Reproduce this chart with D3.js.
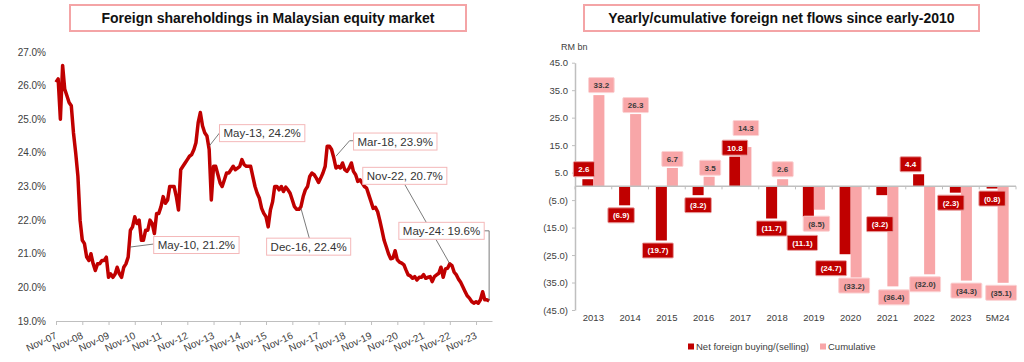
<!DOCTYPE html>
<html>
<head>
<meta charset="utf-8">
<script src="https://cdn.jsdelivr.net/npm/d3@7"></script>
<style>
  body { margin: 0; background: #fff; }
  svg { font-family: "Liberation Sans", Arial, sans-serif; }
</style>
</head>
<body>
<svg id="chart" width="1024" height="362"></svg>
<script>
// ---- data ----
// foreign shareholding (%), monthly from Nov-07 to May-24
const shareStart = new Date(2007, 10, 1);
const shareValues = [
  26.1, 26.2, 25.0, 26.6, 25.9, 25.7, 25.5, 25.4, 24.6, 24.0, 23.3, 22.0,
  21.4, 21.3, 20.9, 20.8, 21.0, 20.7, 20.5, 20.7, 20.7, 20.8, 20.8, 20.9,
  20.3, 20.4, 20.3, 20.4, 20.6, 20.4, 20.3, 20.6, 20.7, 20.9, 21.7, 21.8,
  22.1, 21.9, 22.0, 21.4, 21.4, 21.7, 21.7, 22.0, 21.9, 21.6, 22.2, 22.2,
  22.4, 22.7, 22.5, 22.6, 23.0, 23.0, 23.0, 22.7, 22.3, 23.5, 23.6, 23.7,
  23.8, 23.9, 23.95, 24.1, 24.3, 24.9, 25.2, 24.8, 24.6, 24.5, 24.1, 22.6,
  23.6, 23.6, 23.35, 23.1, 23.0, 23.2, 23.4, 23.4, 23.5, 23.6, 23.5, 23.55,
  23.6, 23.8, 23.65, 23.6, 23.6, 23.6, 23.3, 23.0, 22.8, 22.65, 22.35, 22.2,
  22.1, 21.8, 22.3, 22.55, 23.0, 23.0, 22.9, 23.0, 22.85, 22.98, 22.9, 22.8,
  22.6, 22.4, 22.32, 22.32, 22.4, 22.7, 22.9, 23.0, 23.3, 23.4, 23.35, 23.25,
  23.12, 23.25, 23.4, 23.6, 24.2, 24.2, 24.1, 23.85, 23.55, 23.6, 23.55, 23.7,
  23.5, 23.45, 23.55, 23.7, 23.45, 23.35, 23.15, 23.2, 23.1, 23.0, 22.95, 22.75,
  22.55, 22.35, 22.38, 22.25, 22.0, 21.7, 21.4, 21.2, 21.0, 20.85, 20.87, 21.09,
  20.82, 20.75, 20.72, 20.67, 20.52, 20.37, 20.34, 20.27, 20.32, 20.22, 20.3, 20.3,
  20.38, 20.27, 20.3, 20.32, 20.17, 20.32, 20.37, 20.42, 20.6, 20.3, 20.55, 20.57,
  20.7, 20.65, 20.45, 20.37, 20.25, 20.15, 20.02, 19.88, 19.75, 19.68, 19.58, 19.53,
  19.57, 19.53, 19.63, 19.87, 19.63, 19.63, 19.6
];
const shareTicks = [19, 20, 21, 22, 23, 24, 25, 26, 27];

// callouts: m = month index from Nov-07, v = value where the leader ends
const callouts = [
  { text: "May-10, 21.2%", m: 34, v: 21.2 },
  { text: "May-13, 24.2%", m: 70, v: 24.2 },
  { text: "Dec-16, 22.4%", m: 112, v: 22.35 },
  { text: "Mar-18, 23.9%", m: 128, v: 23.9 },
  { text: "Nov-22, 20.7%", m: 180, v: 20.7 },
  { text: "May-24: 19.6%", m: 198, v: 19.6 }
];
// box centre offset from the point, and leader bends relative to the box centre
const calloutLayout = [
  { dx: 66, dy: -2, leader: [[-42.7, -1]] },
  { dx: 53, dy: -13, leader: [[-42, -1]] },
  { dx: 7.7, dy: 38.3, leader: [[0.7, -8.3]] },
  { dx: 59.3, dy: -14.7, leader: [[-41.7, -0.8], [-45.7, -0.8]] },
  { dx: -45, dy: -88, leader: [[0, 8.7]] },
  { dx: -47.6, dy: -70, leader: [[42.3, 0], [47.6, 0]] }
];

// net flows (RM bn)
const years = ["2013", "2014", "2015", "2016", "2017", "2018", "2019", "2020", "2021", "2022", "2023", "5M24"];
const netFlows = [2.6, -6.9, -19.7, -3.2, 10.8, -11.7, -11.1, -24.7, -3.2, 4.4, -2.3, -0.8];
const cumFlows = [33.2, 26.3, 6.7, 3.5, 14.3, 2.6, -8.5, -33.2, -36.4, -32.0, -34.3, -35.1];
const flowTicks = [-45, -35, -25, -15, -5, 5, 15, 25, 35, 45];
const seriesNames = ["Net foreign buying/(selling)", "Cumulative"];

// manual nudges of the value labels [dx, dy]
const netNudge = [[-4, 0], [-3.5, 0], [-3.5, 0], [0, 0], [0, 1], [0, 0], [-6, 16], [-14, 4], [-2, 19], [-8, 0], [-4.5, 0], [0, 0]];
const cumNudge = [[2.5, 0], [0, 1], [0, 1], [1, 1], [0, -9], [0, 0], [-3, 4], [-2, -2], [1, 1], [-4.5, 0], [0, 0], [-2, 0]];

const darkRed = "#c00000";
const pink = "#f8a6a8";
const textCol = "#404040";
const axisCol = "#bfbfbf";

const svg = d3.select("#chart");

// ---- titles ----
function titleBox(x0, x1, label) {
  svg.append("rect")
    .attr("x", x0).attr("y", 5)
    .attr("width", x1 - x0).attr("height", 26)
    .attr("fill", "#fff")
    .attr("stroke", "#f4a4a6")
    .attr("stroke-width", 2);
  svg.append("text")
    .attr("x", (x0 + x1) / 2).attr("y", 23)
    .attr("text-anchor", "middle")
    .style("font-size", "14px")
    .style("font-weight", "bold")
    .attr("fill", "#111")
    .text(label);
}
titleBox(70, 466, "Foreign shareholdings in Malaysian equity market");
titleBox(584, 979, "Yearly/cumulative foreign net flows since early-2010");

// ---- left: line chart ----
const shares = shareValues.map((v, i) => ({ date: d3.timeMonth.offset(shareStart, i), v: v }));

const x = d3.scaleTime()
  .domain([shareStart, new Date(2024, 5, 10)])
  .range([56, 492]);
const y = d3.scaleLinear()
  .domain([19, 27])
  .range([321, 52]);

const left = svg.append("g");

left.selectAll(".ytick")
  .data(shareTicks)
  .enter().append("text")
    .attr("x", 46)
    .attr("y", d => y(d) + 3.5)
    .attr("text-anchor", "end")
    .style("font-size", "10px")
    .attr("fill", textCol)
    .text(d => d.toFixed(1) + "%");

const novTicks = d3.range(2007, 2024).map(yr => new Date(yr, 10, 1));
const xAxis = left.append("g")
  .attr("transform", "translate(0,321)")
  .call(d3.axisBottom(x)
    .tickValues(novTicks)
    .tickFormat(d3.timeFormat("%b-%y"))
    .tickSize(4)
    .tickSizeOuter(0));
xAxis.select(".domain").attr("stroke", axisCol);
xAxis.selectAll(".tick line").attr("stroke", axisCol);
xAxis.selectAll(".tick text")
  .attr("y", 0).attr("dy", 0)
  .attr("text-anchor", "end")
  .attr("transform", "translate(1,17) rotate(-25)")
  .style("font-size", "10px")
  .style("font-family", "'Liberation Sans', Arial, sans-serif")
  .attr("fill", textCol);

left.append("path")
  .datum(shares)
  .attr("d", d3.line().x(d => x(d.date)).y(d => y(d.v)))
  .attr("fill", "none")
  .attr("stroke", darkRed)
  .attr("stroke-width", 3.5)
  .attr("stroke-linejoin", "round");

// callouts
callouts.forEach((c, i) => {
  const lay = calloutLayout[i];
  const px = x(d3.timeMonth.offset(shareStart, c.m)), py = y(c.v);
  const cx = px + lay.dx, cy = py + lay.dy;
  const pts = lay.leader.map(p => [cx + p[0], cy + p[1]]).concat([[px, py]]);
  left.append("path")
    .attr("d", d3.line()(pts))
    .attr("fill", "none")
    .attr("stroke", "#595959")
    .attr("stroke-width", 0.8);
  const g = left.append("g");
  const t = g.append("text")
    .attr("x", cx).attr("y", cy + 4)
    .attr("text-anchor", "middle")
    .style("font-size", "11.5px")
    .attr("fill", "#333")
    .text(c.text);
  const w = t.node().getComputedTextLength() + 8;
  g.insert("rect", "text")
    .attr("x", cx - w / 2).attr("y", cy - 8.5)
    .attr("width", w).attr("height", 17)
    .attr("fill", "#fff")
    .attr("stroke", "#f4b8b9")
    .attr("stroke-width", 1);
});

// ---- right: bar chart ----
const x0 = d3.scaleBand()
  .domain(years)
  .range([575, 1016])
  .paddingInner(0.4)
  .paddingOuter(0.2);
const x1 = d3.scaleBand()
  .domain(["net", "cum"])
  .range([0, x0.bandwidth()]);
const yb = d3.scaleLinear()
  .domain([-45, 45])
  .range([310, 62.7]);

const right = svg.append("g");
const fmt = v => v < 0 ? "(" + Math.abs(v).toFixed(1) + ")" : v.toFixed(1);

right.append("text")
  .attr("x", 561).attr("y", 50)
  .style("font-size", "9px")
  .attr("fill", textCol)
  .text("RM bn");

const yAxis = right.append("g")
  .attr("transform", "translate(575,0)")
  .call(d3.axisLeft(yb).tickValues(flowTicks).tickFormat(fmt).tickSize(3).tickSizeOuter(0));
yAxis.select(".domain").attr("stroke", axisCol).attr("stroke-width", 1.5);
yAxis.selectAll(".tick line").attr("stroke", axisCol);
yAxis.selectAll(".tick text")
  .attr("x", -7)
  .style("font-size", "9.5px")
  .style("font-family", "'Liberation Sans', Arial, sans-serif")
  .attr("fill", textCol);

const rows = years.map((yr, i) => ({ year: yr, net: netFlows[i], cum: cumFlows[i], i: i }));

const groups = right.selectAll(".yr")
  .data(rows)
  .enter().append("g")
    .attr("transform", d => `translate(${x0(d.year)},0)`);

groups.append("rect")
  .attr("x", x1("net"))
  .attr("width", x1.bandwidth())
  .attr("y", d => yb(Math.max(0, d.net)))
  .attr("height", d => Math.abs(yb(d.net) - yb(0)))
  .attr("fill", darkRed);
groups.append("rect")
  .attr("x", x1("cum"))
  .attr("width", x1.bandwidth())
  .attr("y", d => yb(Math.max(0, d.cum)))
  .attr("height", d => Math.abs(yb(d.cum) - yb(0)))
  .attr("fill", pink);

// zero line with boundary ticks
right.append("line")
  .attr("x1", x0.range()[0]).attr("x2", x0.range()[1])
  .attr("y1", yb(0)).attr("y2", yb(0))
  .attr("stroke", axisCol).attr("stroke-width", 1.5);
right.selectAll(".bt")
  .data(d3.range(years.length + 1))
  .enter().append("line")
    .attr("x1", i => x0.range()[0] + i * x0.step())
    .attr("x2", i => x0.range()[0] + i * x0.step())
    .attr("y1", yb(0)).attr("y2", yb(0) + 3)
    .attr("stroke", axisCol);

// category labels
right.selectAll(".xl")
  .data(years)
  .enter().append("text")
    .attr("x", d => x0(d) + x0.bandwidth() / 2)
    .attr("y", 320.5)
    .attr("text-anchor", "middle")
    .style("font-size", "9.5px")
    .attr("fill", textCol)
    .text(d => d);

// value labels
function valueLabel(d, key, nudge, fill, stroke, color) {
  const v = d[key];
  const cx = x0(d.year) + x1(key) + x1.bandwidth() / 2 + nudge[d.i][0];
  const cy = yb(v) + (v >= 0 ? -10 : 10) + nudge[d.i][1];
  const g = right.append("g");
  const t = g.append("text")
    .attr("x", cx).attr("y", cy + 3)
    .attr("text-anchor", "middle")
    .style("font-size", "8px")
    .style("font-weight", "bold")
    .attr("fill", color)
    .text(fmt(v));
  const w = t.node().getComputedTextLength() + 10;
  g.insert("rect", "text")
    .attr("x", cx - w / 2).attr("y", cy - 7.5)
    .attr("width", w).attr("height", 15)
    .attr("rx", 1)
    .attr("fill", fill)
    .attr("stroke", stroke)
    .attr("stroke-width", 1);
}
rows.forEach(d => {
  valueLabel(d, "cum", cumNudge, pink, "#fbd3d4", "#3a3a3a");
  valueLabel(d, "net", netNudge, darkRed, "#e9a0a0", "#fff");
});

// legend
const legend = right.append("g");
[[688, darkRed, seriesNames[0]], [820, pink, seriesNames[1]]].forEach(l => {
  legend.append("rect")
    .attr("x", l[0]).attr("y", 343.5)
    .attr("width", 6).attr("height", 6)
    .attr("fill", l[1]);
  legend.append("text")
    .attr("x", l[0] + 8).attr("y", 350)
    .style("font-size", "9.5px")
    .attr("fill", textCol)
    .text(l[2]);
});
</script>
</body>
</html>
